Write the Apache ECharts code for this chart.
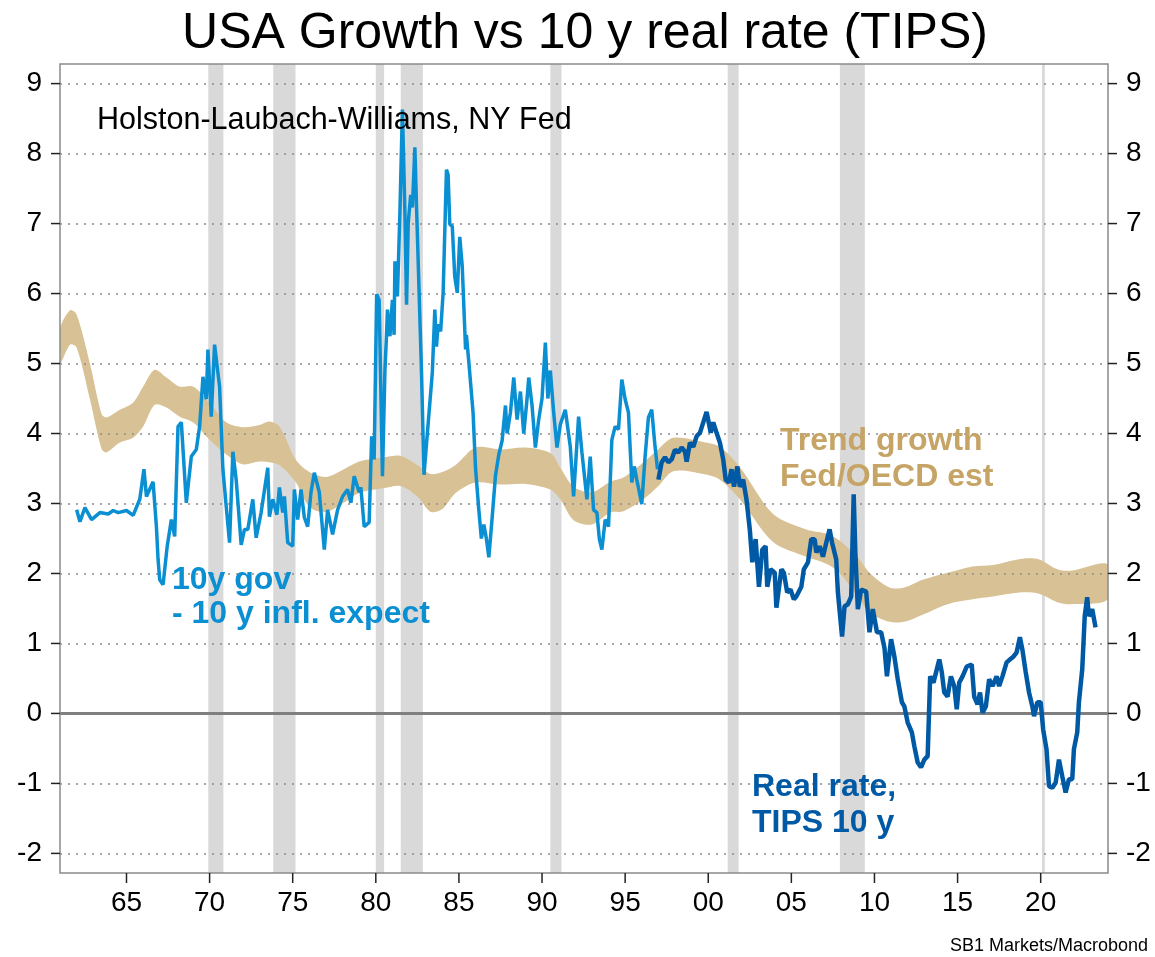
<!DOCTYPE html>
<html>
<head>
<meta charset="utf-8">
<script src="https://cdn.jsdelivr.net/npm/echarts@6/dist/echarts.min.js"></script>
<style>
  html, body { margin: 0; background: #fff; }
  #chart { width: 1155px; height: 957px; }
</style>
</head>
<body>
<div id="chart"></div>
<script>
// axis ticks
var yearTicks = [1965, 1970, 1975, 1980, 1985, 1990, 1995, 2000, 2005, 2010, 2015, 2020];
var valueTicks = [-2, -1, 0, 1, 2, 3, 4, 5, 6, 7, 8, 9];

// NBER recessions (start, end)
var recessions = [
  [1969.92, 1970.83], [1973.83, 1975.17], [1980.0, 1980.5], [1981.5, 1982.83],
  [1990.5, 1991.17], [2001.17, 2001.83], [2007.92, 2009.42], [2020.08, 2020.25]
];

// trend growth band, Fed/OECD est (Holston-Laubach-Williams)
var bandYears = [1961.0, 1961.6, 1962.0, 1962.8, 1963.5, 1963.8, 1964.6, 1965.4, 1966.0, 1966.7,
  1967.4, 1968.2, 1969.0, 1970.0, 1971.0, 1972.0, 1973.0, 1973.6, 1974.2, 1975.2,
  1976.0, 1977.0, 1978.0, 1979.0, 1980.5, 1981.5, 1982.5, 1983.3, 1984.0, 1984.8,
  1986.0, 1987.5, 1989.0, 1990.5, 1991.1, 1991.9, 1993.0, 1994.1, 1994.9, 1996.1,
  1997.0, 1997.9, 1999.7, 2000.7, 2001.9, 2003.9, 2005.9, 2007.1, 2007.9, 2009.1,
  2009.7, 2010.9, 2011.8, 2012.9, 2014.4, 2015.9, 2017.1, 2018.9, 2019.9, 2021.0,
  2021.8, 2024.05];
var bandLow = [5.00, 5.27, 5.23, 4.49, 3.78, 3.73, 3.87, 3.94, 4.10, 4.41,
  4.37, 4.24, 4.16, 3.91, 3.70, 3.56, 3.60, 3.59, 3.55, 3.30,
  2.95, 2.88, 3.00, 3.15, 3.22, 3.25, 3.10, 2.88, 2.92, 3.15,
  3.30, 3.27, 3.28, 3.20, 3.06, 2.76, 2.70, 2.87, 2.89, 3.06,
  3.25, 3.46, 3.42, 3.34, 3.06, 2.45, 2.24, 2.14, 2.01, 1.63,
  1.44, 1.31, 1.31, 1.41, 1.56, 1.63, 1.67, 1.73, 1.71, 1.59,
  1.56, 1.63];
var bandHigh = [5.49, 5.76, 5.70, 5.00, 4.28, 4.23, 4.34, 4.44, 4.67, 4.91,
  4.80, 4.67, 4.67, 4.44, 4.16, 4.09, 4.12, 4.17, 4.10, 3.62,
  3.45, 3.38, 3.48, 3.60, 3.66, 3.68, 3.55, 3.42, 3.45, 3.55,
  3.80, 3.77, 3.80, 3.72, 3.51, 3.24, 3.16, 3.31, 3.37, 3.59,
  3.78, 3.94, 3.88, 3.81, 3.52, 2.85, 2.63, 2.57, 2.47, 2.20,
  2.01, 1.80, 1.80, 1.91, 2.01, 2.10, 2.12, 2.21, 2.20, 2.06,
  2.04, 2.13];

// 10y gov - 10y inflation expectations
var govYears = [1962.0, 1962.2, 1962.5, 1962.9, 1963.4, 1963.9, 1964.2, 1964.5, 1965.0, 1965.4,
  1965.8, 1966.05, 1966.2, 1966.6, 1966.8, 1966.9, 1967.0, 1967.2, 1967.45, 1967.7,
  1967.9, 1968.1, 1968.3, 1968.6, 1968.9, 1969.2, 1969.4, 1969.6, 1969.8, 1969.9,
  1970.1, 1970.3, 1970.6, 1970.8, 1971.0, 1971.2, 1971.4, 1971.6, 1971.9, 1972.1,
  1972.3, 1972.6, 1972.8, 1973.1, 1973.5, 1973.6, 1973.8, 1974.05, 1974.2, 1974.4,
  1974.5, 1974.7, 1975.0, 1975.1, 1975.3, 1975.5, 1975.7, 1975.9, 1976.1, 1976.3,
  1976.6, 1976.9, 1977.1, 1977.4, 1977.7, 1978.0, 1978.3, 1978.5, 1978.7, 1979.0,
  1979.1, 1979.3, 1979.6, 1979.75, 1979.9, 1980.05, 1980.2, 1980.4, 1980.55, 1980.65,
  1980.7, 1980.85, 1981.0, 1981.1, 1981.15, 1981.3, 1981.45, 1981.6, 1981.75, 1981.85,
  1981.95, 1982.1, 1982.2, 1982.35, 1982.45, 1982.75, 1982.9, 1983.1, 1983.4, 1983.55,
  1983.65, 1983.75, 1983.9, 1984.05, 1984.25, 1984.35, 1984.45, 1984.6, 1984.75, 1984.9,
  1985.05, 1985.2, 1985.4, 1985.45, 1985.6, 1985.85, 1986.0, 1986.2, 1986.35, 1986.5,
  1986.65, 1986.8, 1987.0, 1987.2, 1987.4, 1987.6, 1987.8, 1987.9, 1988.1, 1988.3,
  1988.5, 1988.7, 1988.9, 1989.1, 1989.2, 1989.4, 1989.6, 1989.8, 1990.0, 1990.2,
  1990.35, 1990.5, 1990.7, 1990.9, 1991.1, 1991.4, 1991.7, 1991.9, 1992.2, 1992.4,
  1992.7, 1992.9, 1993.1, 1993.3, 1993.45, 1993.6, 1993.8, 1994.0, 1994.2, 1994.4,
  1994.6, 1994.8, 1995.0, 1995.2, 1995.4, 1995.55, 1995.7, 1996.0, 1996.2, 1996.4,
  1996.6, 1996.8, 1996.95];
var govValues = [2.91, 2.74, 2.94, 2.77, 2.87, 2.85, 2.90, 2.87, 2.90, 2.83,
  3.06, 3.49, 3.10, 3.31, 2.67, 2.20, 1.91, 1.84, 2.39, 2.77,
  2.53, 4.10, 4.16, 3.01, 3.67, 3.77, 4.10, 4.81, 4.49, 5.20,
  4.24, 5.27, 4.67, 3.49, 2.96, 2.44, 3.74, 3.34, 2.41, 2.63,
  2.63, 3.06, 2.51, 2.87, 3.51, 2.81, 3.06, 2.84, 3.23, 2.87,
  3.10, 2.44, 2.39, 3.20, 2.77, 3.20, 2.80, 2.67, 3.16, 3.44,
  3.16, 2.34, 2.91, 2.56, 2.91, 3.10, 3.20, 3.01, 3.39, 3.16,
  3.23, 2.67, 2.73, 3.96, 3.63, 5.99, 5.91, 3.39, 4.91, 5.44,
  5.77, 5.39, 5.91, 5.41, 6.46, 5.96, 7.16, 8.63, 7.16, 5.84,
  7.01, 7.41, 7.23, 8.09, 7.24, 4.87, 3.41, 4.00, 4.87, 5.77,
  5.24, 5.56, 5.46, 6.01, 7.77, 7.70, 6.99, 6.96, 6.24, 6.01,
  6.81, 6.39, 5.20, 5.41, 5.01, 4.30, 3.50, 2.90, 2.50, 2.70,
  2.50, 2.23, 2.80, 3.40, 3.70, 3.90, 4.40, 4.00, 4.30, 4.80,
  4.20, 4.60, 4.00, 4.50, 4.80, 4.40, 3.80, 4.20, 4.50, 5.30,
  4.50, 4.90, 4.30, 3.80, 4.13, 4.34, 3.81, 3.10, 4.24, 3.73,
  3.06, 3.67, 2.91, 2.87, 2.49, 2.34, 2.77, 2.67, 3.91, 4.10,
  4.06, 4.77, 4.49, 4.30, 3.30, 3.53, 3.34, 2.99, 3.67, 4.23,
  4.34, 3.81, 3.49];

// real rate, TIPS 10y
var tipsYears = [1997.0, 1997.2, 1997.4, 1997.6, 1997.8, 1998.0, 1998.2, 1998.4, 1998.6, 1998.7,
  1998.9, 1999.1, 1999.3, 1999.5, 1999.7, 1999.9, 2000.0, 2000.15, 2000.3, 2000.5,
  2000.7, 2000.9, 2001.05, 2001.25, 2001.4, 2001.55, 2001.75, 2001.9, 2002.1, 2002.3,
  2002.5, 2002.65, 2002.85, 2003.05, 2003.25, 2003.45, 2003.55, 2003.75, 2004.0, 2004.1,
  2004.4, 2004.55, 2004.75, 2004.95, 2005.15, 2005.3, 2005.6, 2005.75, 2006.0, 2006.2,
  2006.4, 2006.5, 2006.7, 2006.9, 2007.1, 2007.3, 2007.45, 2007.7, 2007.8, 2008.05,
  2008.2, 2008.4, 2008.6, 2008.75, 2008.85, 2009.0, 2009.2, 2009.5, 2009.7, 2009.9,
  2010.15, 2010.4, 2010.6, 2010.75, 2011.0, 2011.2, 2011.4, 2011.65, 2011.8, 2012.0,
  2012.25, 2012.4, 2012.6, 2012.8, 2013.0, 2013.2, 2013.35, 2013.55, 2013.75, 2013.9,
  2014.05, 2014.2, 2014.4, 2014.6, 2014.8, 2014.95, 2015.1, 2015.3, 2015.55, 2015.85,
  2016.0, 2016.2, 2016.35, 2016.5, 2016.7, 2016.9, 2017.1, 2017.35, 2017.5, 2017.7,
  2017.95, 2018.15, 2018.35, 2018.55, 2018.75, 2018.9, 2019.1, 2019.3, 2019.5, 2019.6,
  2019.8, 2020.0, 2020.15, 2020.35, 2020.5, 2020.7, 2020.9, 2021.1, 2021.3, 2021.5,
  2021.7, 2021.9, 2022.0, 2022.2, 2022.3, 2022.5, 2022.65, 2022.8, 2022.9, 2023.1,
  2023.3];
var tipsValues = [3.34, 3.59, 3.66, 3.59, 3.63, 3.77, 3.73, 3.80, 3.74, 3.60,
  3.87, 3.81, 3.96, 4.01, 4.16, 4.31, 4.30, 4.01, 4.16, 4.01,
  3.87, 3.63, 3.34, 3.30, 3.49, 3.24, 3.53, 3.24, 3.34, 3.06,
  2.63, 2.16, 2.49, 1.81, 2.34, 2.39, 1.81, 2.06, 2.01, 1.51,
  2.06, 2.01, 1.73, 1.77, 1.63, 1.67, 1.81, 2.06, 2.16, 2.49,
  2.49, 2.30, 2.39, 2.24, 2.44, 2.63, 2.44, 2.20, 1.73, 1.10,
  1.53, 1.56, 1.67, 3.13, 2.30, 1.49, 1.77, 1.74, 1.16, 1.49,
  1.16, 1.16, 0.94, 0.53, 1.06, 0.81, 0.49, 0.16, 0.10, -0.13,
  -0.27, -0.47, -0.70, -0.77, -0.66, -0.61, 0.53, 0.44, 0.63, 0.77,
  0.59, 0.30, 0.24, 0.53, 0.39, 0.06, 0.44, 0.53, 0.67, 0.70,
  0.24, 0.13, 0.30, 0.01, 0.10, 0.49, 0.39, 0.53, 0.39, 0.53,
  0.73, 0.77, 0.81, 0.87, 1.09, 0.91, 0.59, 0.30, 0.10, -0.04,
  0.16, 0.16, -0.23, -0.51, -1.04, -1.06, -0.99, -0.66, -0.90, -1.13,
  -0.94, -0.94, -0.51, -0.27, 0.16, 0.63, 1.39, 1.66, 1.39, 1.49,
  1.23];

var xMin = 1961.0, xMax = 2024.05;
var yMin = -2.28, yMax = 9.28;
var font = '"Liberation Sans", Arial, Helvetica, sans-serif';
var frameColor = '#8a8a8a';

function pairs(xs, ys) {
  return xs.map(function (x, i) { return [x, ys[i]]; });
}

// tick marks: [x, y, side] side 0 = bottom, 1 = left, 2 = right
var tickMarks = yearTicks.map(function (v) { return [v, yMin, 0]; })
  .concat(valueTicks.map(function (v) { return [xMin, v, 1]; }))
  .concat(valueTicks.map(function (v) { return [xMax, v, 2]; }));

var myChart = echarts.init(document.getElementById('chart'));

var yAxisBase = {
  type: 'value',
  min: yMin,
  max: yMax,
  z: 3,
  axisLine: { show: false, onZero: false },
  axisTick: { show: false, customValues: valueTicks },
  axisLabel: { customValues: valueTicks, fontSize: 28, fontFamily: font, color: '#000', margin: 18 }
};

myChart.setOption({
  animation: false,
  backgroundColor: '#fff',
  grid: {
    show: true, z: 6, left: 60, top: 64, right: 47, bottom: 84,
    borderColor: frameColor, borderWidth: 1.5, backgroundColor: 'transparent'
  },
  xAxis: {
    type: 'value',
    min: xMin,
    max: xMax,
    position: 'bottom',
    z: 3,
    axisLine: { show: false, onZero: false },
    splitLine: { show: false },
    axisTick: { show: false, customValues: yearTicks },
    axisLabel: {
      customValues: yearTicks, fontSize: 28, fontFamily: font, color: '#000', margin: 16,
      formatter: function (v) { return String(Math.round(v) % 100).padStart(2, '0'); }
    }
  },
  yAxis: [
    Object.assign({}, yAxisBase, {
      position: 'left',
      splitLine: { show: true, lineStyle: { color: '#8c8c8c', width: 1.5, type: [2, 6] } }
    }),
    Object.assign({}, yAxisBase, {
      position: 'right',
      splitLine: { show: false }
    })
  ],
  series: [
    {
      // recession bars
      type: 'custom',
      z: 1,
      silent: true,
      clip: true,
      encode: { x: [0, 1] },
      data: recessions,
      renderItem: function (params, api) {
        var p0 = api.coord([api.value(0), yMax]);
        var p1 = api.coord([api.value(1), yMin]);
        return { type: 'rect', shape: { x: p0[0], y: p0[1], width: p1[0] - p0[0], height: p1[1] - p0[1] }, style: { fill: '#d9d9d9' } };
      }
    },
    {
      // trend growth band
      type: 'custom',
      z: 2,
      silent: true,
      clip: true,
      data: [[bandYears[0], bandLow[0]]],
      renderItem: function (params, api) {
        var top = pairs(bandYears, bandHigh).map(function (p) { return api.coord(p); });
        var bottom = pairs(bandYears, bandLow).map(function (p) { return api.coord(p); }).reverse();
        return { type: 'polygon', shape: { points: top.concat(bottom), smooth: 0.3 }, style: { fill: '#d8c194' } };
      }
    },
    {
      // zero line
      type: 'custom',
      z: 3.5,
      silent: true,
      clip: true,
      data: [[xMin, 0]],
      renderItem: function (params, api) {
        var a = api.coord([xMin, 0]);
        var b = api.coord([xMax, 0]);
        return { type: 'line', shape: { x1: a[0], y1: a[1], x2: b[0], y2: b[1] }, style: { stroke: '#7f7f7f', lineWidth: 3 } };
      }
    },
    {
      // outward axis tick marks
      type: 'custom',
      z: 7,
      silent: true,
      clip: false,
      encode: { x: 0, y: 1 },
      data: tickMarks,
      renderItem: function (params, api) {
        var p = api.coord([api.value(0), api.value(1)]);
        var side = api.value(2);
        var shape;
        if (side === 0) shape = { x1: p[0], y1: p[1], x2: p[0], y2: p[1] + 10 };
        else if (side === 1) shape = { x1: p[0] - 9, y1: p[1], x2: p[0], y2: p[1] };
        else shape = { x1: p[0], y1: p[1], x2: p[0] + 9, y2: p[1] };
        return { type: 'line', shape: shape, style: { stroke: '#222', lineWidth: 1.5 } };
      }
    },
    {
      name: '10y gov - 10 y infl. expect',
      type: 'line',
      z: 4,
      data: pairs(govYears, govValues),
      showSymbol: false,
      symbol: 'none',
      lineStyle: { color: '#0a8fd2', width: 3.5 }
    },
    {
      name: 'Real rate, TIPS 10 y',
      type: 'line',
      z: 5,
      data: pairs(tipsYears, tipsValues),
      showSymbol: false,
      symbol: 'none',
      lineStyle: { color: '#0059a4', width: 4.5 }
    }
  ],
  graphic: [
    { type: 'text', z: 20, x: 585, y: 34, style: { text: 'USA Growth vs 10 y real rate (TIPS)', font: '50px ' + font, fill: '#000', textAlign: 'center', textVerticalAlign: 'middle' } },
    { type: 'text', z: 20, x: 97, y: 121, style: { text: 'Holston-Laubach-Williams, NY Fed', font: '30.5px ' + font, fill: '#000', textAlign: 'left', textVerticalAlign: 'middle' } },
    { type: 'text', z: 20, x: 172, y: 580, style: { text: '10y gov', font: 'bold 32px ' + font, fill: '#0a8fd2', textAlign: 'left', textVerticalAlign: 'middle' } },
    { type: 'text', z: 20, x: 172, y: 614, style: { text: '- 10 y infl. expect', font: 'bold 32px ' + font, fill: '#0a8fd2', textAlign: 'left', textVerticalAlign: 'middle' } },
    { type: 'text', z: 20, x: 780, y: 441, style: { text: 'Trend growth', font: 'bold 32px ' + font, fill: '#c6a466', textAlign: 'left', textVerticalAlign: 'middle' } },
    { type: 'text', z: 20, x: 780, y: 477, style: { text: 'Fed/OECD est', font: 'bold 32px ' + font, fill: '#c6a466', textAlign: 'left', textVerticalAlign: 'middle' } },
    { type: 'text', z: 20, x: 752, y: 787, style: { text: 'Real rate,', font: 'bold 32px ' + font, fill: '#0059a4', textAlign: 'left', textVerticalAlign: 'middle' } },
    { type: 'text', z: 20, x: 752, y: 823, style: { text: 'TIPS 10 y', font: 'bold 32px ' + font, fill: '#0059a4', textAlign: 'left', textVerticalAlign: 'middle' } },
    { type: 'text', z: 20, x: 1148, y: 946, style: { text: 'SB1 Markets/Macrobond', font: '18px ' + font, fill: '#000', textAlign: 'right', textVerticalAlign: 'middle' } }
  ]
});
</script>
</body>
</html>
